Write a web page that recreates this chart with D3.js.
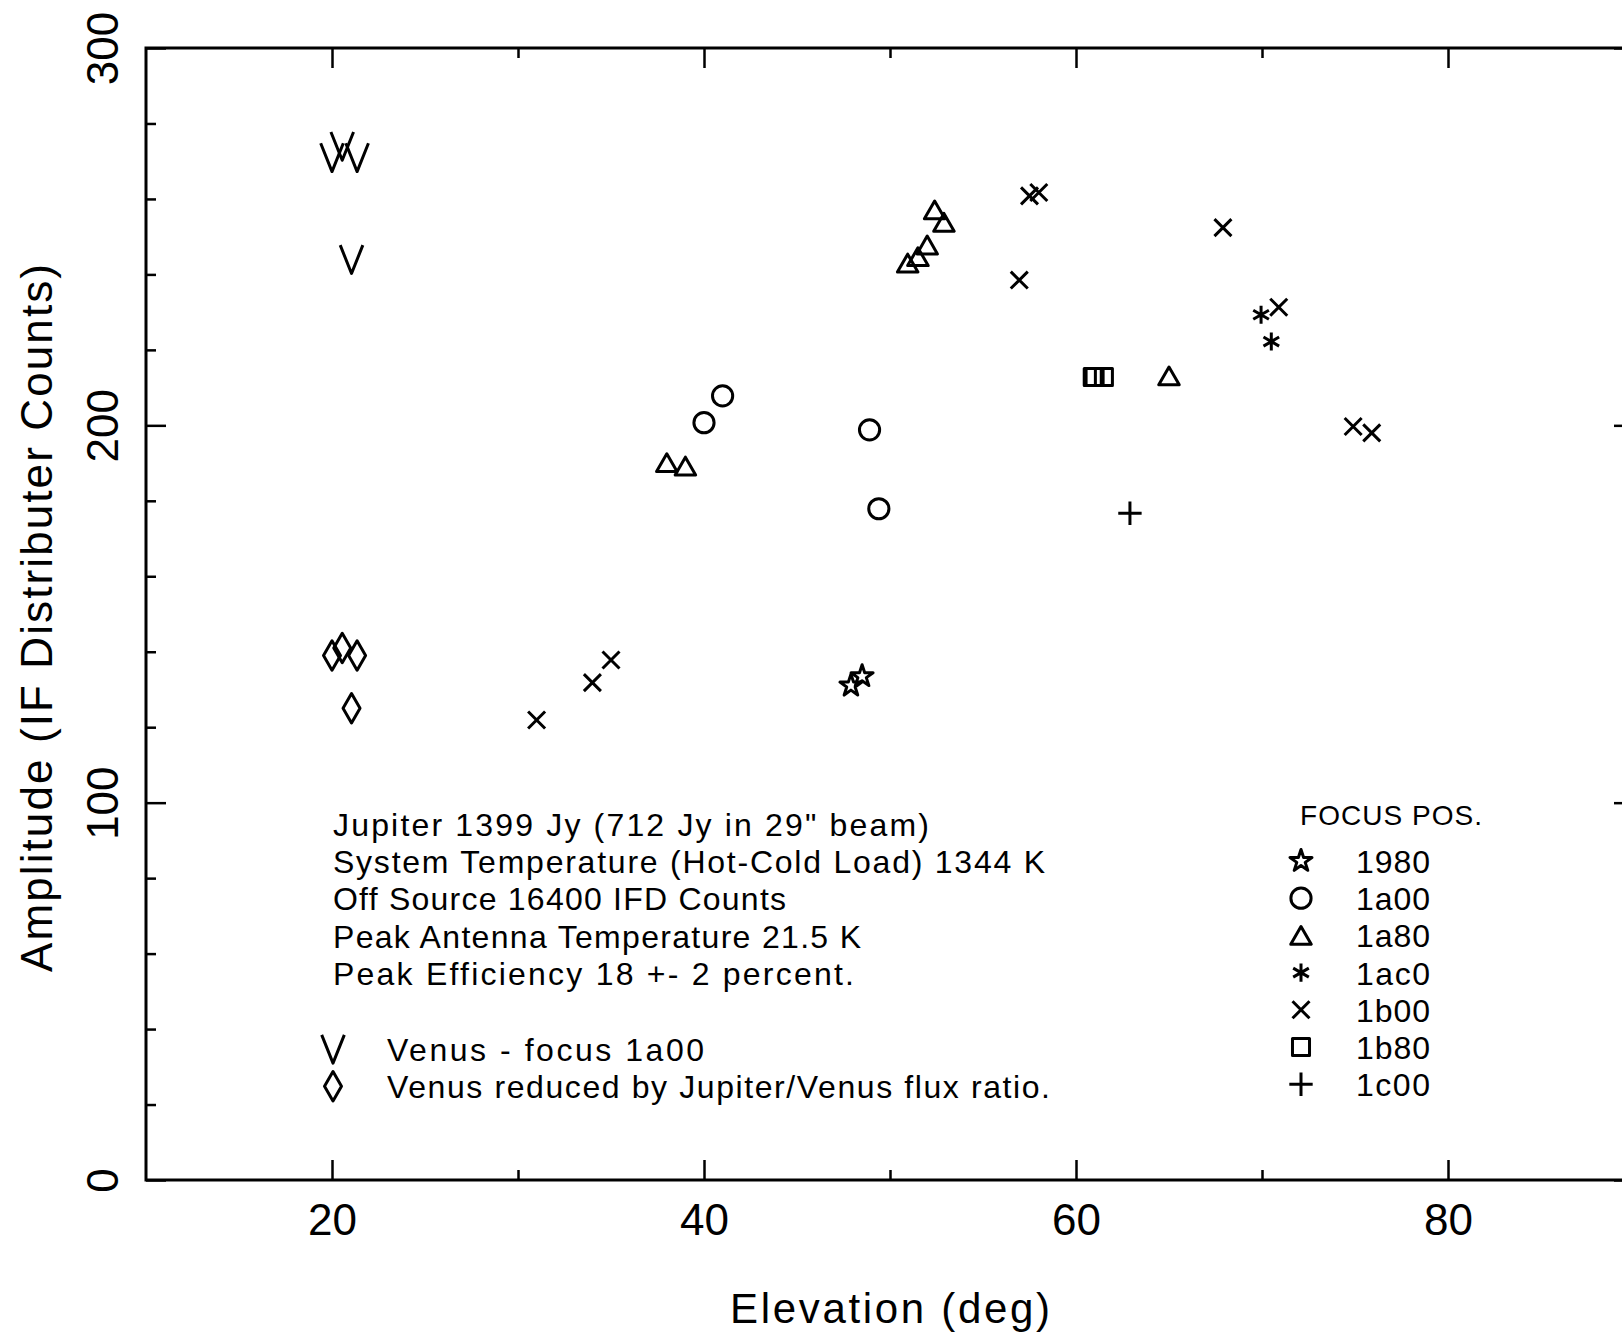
<!DOCTYPE html>
<html>
<head>
<meta charset="utf-8">
<script src="https://cdn.jsdelivr.net/npm/d3@7"></script>
<style>
  body { margin: 0; background: #fff; }
  svg { display: block; font-family: "Liberation Sans", Arial, sans-serif; }
</style>
</head>
<body>
<div id="chart"></div>
<script>
/* CONSTANTS AND GLOBALS */
const width = 1622,
  height = 1336,
  margin = { top: 48, left: 146, bottom: 156 },
  plotRight = 1634; // x = 90 falls just past the page edge

/* DATA */
// ticks
const xMajor = [20, 40, 60, 80];
const xMinor = [30, 50, 70];
const yMajor = [0, 100, 200, 300];
const yMinor = [20, 40, 60, 80, 120, 140, 160, 180, 220, 240, 260, 280];

// Venus: elevation, raw amplitude, amplitude reduced by Jupiter/Venus flux ratio
const venusElev = [20.0, 20.55, 21.35, 21.05];
const venusAmp = [271, 274, 271, 244];
const venusReduced = [139, 141, 139, 125];

// Jupiter, one list per focus position: [elevation, amplitude]
const focus1980 = [[47.9, 131], [48.5, 133.5]];
const focus1a00 = [[40.0, 200.7], [41.0, 207.8], [48.9, 198.8], [49.4, 177.9]];
const focus1a80 = [[38.0, 190.1], [39.0, 189.2], [50.95, 243.0], [51.5, 244.7],
  [52.0, 247.8], [52.4, 257.1], [52.9, 253.8], [65.0, 213.1]];
const focus1ac0 = [[69.95, 229.3], [70.5, 222.2]];
const focus1b00 = [[31.0, 121.9], [34.0, 131.8], [35.0, 137.8], [56.95, 238.5],
  [57.5, 260.8], [58.0, 261.7], [67.9, 252.4], [70.9, 231.3], [74.9, 199.7], [75.9, 198.0]];
const focus1b80 = [[60.9, 212.8], [61.0, 212.8], [61.5, 212.8]];
const focus1c00 = [[62.9, 176.7]];

const focusCodes = ["1980", "1a00", "1a80", "1ac0", "1b00", "1b80", "1c00"];

const notes = [
  "Jupiter 1399 Jy (712 Jy in 29\" beam)",
  "System Temperature (Hot-Cold Load) 1344 K",
  "Off Source 16400 IFD Counts",
  "Peak Antenna Temperature 21.5 K",
  "Peak Efficiency 18 +- 2 percent."
];
const venusNotes = ["Venus - focus 1a00", "Venus reduced by Jupiter/Venus flux ratio."];

/* SYMBOLS */
const symbolV = {
  draw(ctx, size) {
    const h = Math.sqrt(size) / 2, w = h * 0.8;
    ctx.moveTo(-w, -h);
    ctx.lineTo(0, h);
    ctx.lineTo(w, -h);
  }
};
const symbolTri = {
  draw(ctx, size) {
    const w = Math.sqrt(size), h = w * 0.87;
    ctx.moveTo(0, -h / 2);
    ctx.lineTo(w / 2, h / 2);
    ctx.lineTo(-w / 2, h / 2);
    ctx.closePath();
  }
};

const focusSymbols = [
  d3.symbol(d3.symbolStar, 150),
  d3.symbol(d3.symbolCircle, 320),
  d3.symbol(symbolTri, 420),
  d3.symbol(d3.symbolAsterisk, 230),
  d3.symbol(d3.symbolTimes, 190),
  d3.symbol(d3.symbolSquare, 290),
  d3.symbol(d3.symbolPlus, 180)
];
const vSymbol = d3.symbol(symbolV, 800);
const diamondSymbol = d3.symbol(d3.symbolDiamond, 250);

/* SCALES */
const xScale = d3.scaleLinear()
  .domain([10, 90])
  .range([margin.left, plotRight]);

const yScale = d3.scaleLinear()
  .domain([0, 300])
  .range([height - margin.bottom, margin.top]);

/* SVG */
const svg = d3.select("#chart")
  .append("svg")
  .attr("width", width)
  .attr("height", height);

// frame
svg.append("rect")
  .attr("x", margin.left)
  .attr("y", margin.top)
  .attr("width", plotRight - margin.left)
  .attr("height", yScale(0) - margin.top)
  .attr("fill", "none")
  .attr("stroke", "#000")
  .attr("stroke-width", 3);

// inward ticks on all four sides
function tickGroup(axis, tx, ty) {
  const g = svg.append("g")
    .attr("transform", `translate(${tx},${ty})`)
    .call(axis);
  g.select(".domain").remove();
  g.selectAll(".tick line").attr("stroke", "#000").attr("stroke-width", 2.5);
  return g;
}

const xAxisGroup = tickGroup(d3.axisBottom(xScale).tickValues(xMajor).tickSize(-20), 0, yScale(0));
tickGroup(d3.axisBottom(xScale).tickValues(xMinor).tickSize(-10).tickFormat(""), 0, yScale(0));
tickGroup(d3.axisTop(xScale).tickValues(xMajor).tickSize(-20).tickFormat(""), 0, margin.top);
tickGroup(d3.axisTop(xScale).tickValues(xMinor).tickSize(-10).tickFormat(""), 0, margin.top);

const yAxisGroup = tickGroup(d3.axisLeft(yScale).tickValues(yMajor).tickSize(-20), margin.left, 0);
tickGroup(d3.axisLeft(yScale).tickValues(yMinor).tickSize(-10).tickFormat(""), margin.left, 0);
tickGroup(d3.axisRight(yScale).tickValues(yMajor).tickSize(-20).tickFormat(""), plotRight, 0);
tickGroup(d3.axisRight(yScale).tickValues(yMinor).tickSize(-12).tickFormat(""), plotRight, 0);

xAxisGroup.attr("font-size", null).attr("font-family", null);
xAxisGroup.selectAll(".tick text")
  .attr("y", 55)
  .attr("dy", null)
  .attr("fill", "#000")
  .attr("font-size", 44);

yAxisGroup.attr("font-size", null).attr("font-family", null);
yAxisGroup.selectAll(".tick text")
  .attr("x", null)
  .attr("dy", null)
  .attr("text-anchor", "middle")
  .attr("transform", "translate(-28,0) rotate(-90)")
  .attr("fill", "#000")
  .attr("font-size", 44);

// axis titles
svg.append("text")
  .attr("x", 890)
  .attr("y", 1323)
  .attr("text-anchor", "middle")
  .attr("font-size", 42)
  .attr("textLength", 320)
  .attr("lengthAdjust", "spacing")
  .text("Elevation (deg)");

svg.append("text")
  .attr("transform", "translate(52,618) rotate(-90)")
  .attr("text-anchor", "middle")
  .attr("font-size", 44)
  .attr("textLength", 708)
  .attr("lengthAdjust", "spacing")
  .text("Amplitude (IF Distributer Counts)");

/* MARKS */
const markStyle = sel => sel
  .attr("fill", "none")
  .attr("stroke", "#000")
  .attr("stroke-width", 3)
  .attr("stroke-linejoin", "round");

svg.append("g").selectAll("path")
  .data(venusElev)
  .join("path")
  .attr("transform", (d, i) => `translate(${xScale(d)},${yScale(venusAmp[i])})`)
  .attr("d", vSymbol)
  .call(markStyle);

svg.append("g").selectAll("path")
  .data(venusElev)
  .join("path")
  .attr("transform", (d, i) => `translate(${xScale(d)},${yScale(venusReduced[i])})`)
  .attr("d", diamondSymbol)
  .call(markStyle);

const focusSeries = [focus1980, focus1a00, focus1a80, focus1ac0, focus1b00, focus1b80, focus1c00];
focusSeries.forEach((series, i) => {
  svg.append("g")
    .attr("class", "focus-" + focusCodes[i])
    .selectAll("path")
    .data(series)
    .join("path")
    .attr("transform", d => `translate(${xScale(d[0])},${yScale(d[1])})`)
    .attr("d", focusSymbols[i])
    .call(markStyle);
});

/* ANNOTATIONS */
const noteWidths = [596, 712, 453, 528, 521];
const lineStep = 37.2;
svg.append("g").selectAll("text")
  .data(notes)
  .join("text")
  .attr("x", 333)
  .attr("y", (d, i) => 836 + i * lineStep)
  .attr("font-size", 32)
  .attr("textLength", (d, i) => noteWidths[i])
  .attr("lengthAdjust", "spacing")
  .text(d => d);

// Venus key
const venusKey = svg.append("g");
venusKey.selectAll("path")
  .data([vSymbol, diamondSymbol])
  .join("path")
  .attr("transform", (d, i) => `translate(333,${1049 + i * lineStep})`)
  .attr("d", d => d())
  .call(markStyle);
venusKey.selectAll("text")
  .data(venusNotes)
  .join("text")
  .attr("x", 387)
  .attr("y", (d, i) => 1061 + i * lineStep)
  .attr("font-size", 32)
  .attr("textLength", (d, i) => [317, 663][i])
  .attr("lengthAdjust", "spacing")
  .text(d => d);

// focus legend
const legend = svg.append("g");
legend.append("text")
  .attr("x", 1300)
  .attr("y", 825)
  .attr("font-size", 28)
  .attr("textLength", 182)
  .attr("lengthAdjust", "spacing")
  .text("FOCUS POS.");
legend.selectAll("path")
  .data(focusSymbols)
  .join("path")
  .attr("transform", (d, i) => `translate(1301,${861 + i * lineStep})`)
  .attr("d", d => d())
  .call(markStyle);
legend.selectAll("text.code")
  .data(focusCodes)
  .join("text")
  .attr("class", "code")
  .attr("x", 1356)
  .attr("y", (d, i) => 873 + i * lineStep)
  .attr("font-size", 32)
  .attr("textLength", 74)
  .attr("lengthAdjust", "spacing")
  .text(d => d);
</script>
</body>
</html>
